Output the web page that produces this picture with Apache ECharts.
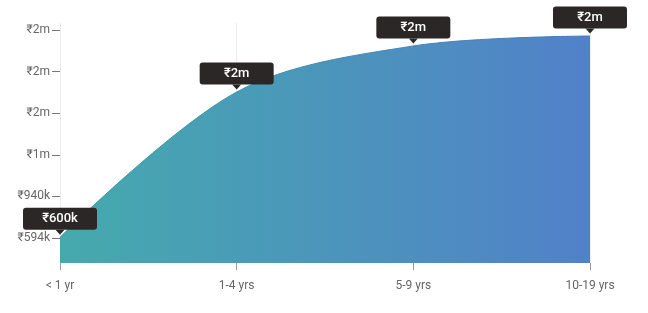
<!DOCTYPE html>
<html><head><meta charset="utf-8">
<script src="https://cdn.jsdelivr.net/npm/echarts@6/dist/echarts.min.js"></script>
<style>html,body{margin:0;padding:0;background:#fff}#c{width:648px;height:313px}</style>
</head><body><div id="c"></div>
<script>
const categories = ['< 1 yr', '1-4 yrs', '5-9 yrs', '10-19 yrs'];
const salaries = [600000, 1808000, 2191000, 2274000];
const yTicks = [594000, 940000, 1286000, 1632000, 1978000, 2324000];
const yMin = 386000, yMax = 2382000;

function fmt(v) {
  if (v < 1e6) return '₹' + Math.round(v / 1000) + 'k';
  return '₹' + Math.round(v / 1e6) + 'm';
}
const chart = echarts.init(document.getElementById('c'), null, {renderer: 'canvas'});
chart.setOption({
  animation: false,
  textStyle: {fontFamily: 'Roboto'},
  grid: {left: 60, right: 58, top: 23, bottom: 50},
  xAxis: {
    type: 'category', data: categories, boundaryGap: false,
    axisLine: {show: false},
    axisTick: {show: true, length: 7, lineStyle: {color: '#9a9a9a'}},
    splitLine: {show: true, lineStyle: {color: '#ececec'}},
    axisLabel: {color: '#666', fontSize: 12, margin: 17, fontFamily: 'Roboto'}
  },
  yAxis: {
    type: 'value', min: yMin, max: yMax,
    axisLine: {show: false},
    splitLine: {show: false},
    axisTick: {show: true, length: 8, customValues: yTicks, lineStyle: {color: '#777'}},
    axisLabel: {customValues: yTicks, formatter: fmt, color: '#666', fontSize: 12, margin: 10, fontFamily: 'Roboto'}
  },
  series: [{
    type: 'line', data: salaries, smooth: 0.33, symbol: 'none',
    lineStyle: {width: 1, color: new echarts.graphic.LinearGradient(0,0,1,0,[{offset:0,color:'#3d9ea3'},{offset:1,color:'#4676c0'}])},
    areaStyle: {opacity: 1, color: new echarts.graphic.LinearGradient(0,0,1,0,[{offset:0,color:'#45aaad'},{offset:1,color:'#5181c9'}])},
    z: 2
  }, {
    type: 'scatter', data: salaries, symbol: 'triangle', symbolRotate: 180, symbolSize: [9, 5],
    symbolOffset: [0, -5], itemStyle: {color: '#2b2727', opacity: 1}, z: 3, silent: true,
    label: {
      show: true, position: 'top', distance: 0, formatter: p => fmt(p.value),
      color: '#fff', fontSize: 13, fontWeight: 500, fontFamily: 'Roboto',
      backgroundColor: '#2b2727', borderRadius: 3, width: 74, height: 22, lineHeight: 22, align: 'center', padding: 0
    },
    labelLayout: {hideOverlap: false}
  }]
});
</script></body></html>
